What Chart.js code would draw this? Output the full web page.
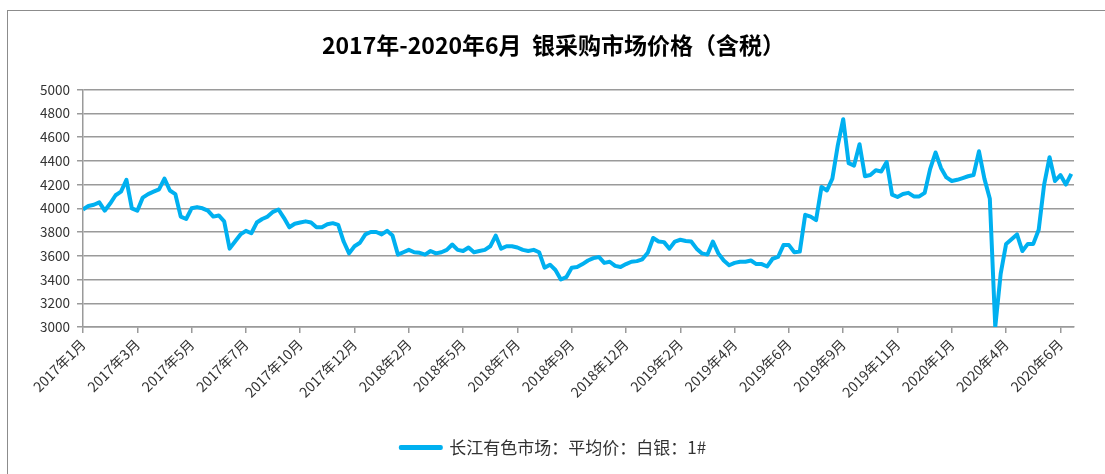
<!DOCTYPE html>
<html>
<head>
<meta charset="utf-8">
<title>银采购市场价格</title>
<script src="https://cdn.jsdelivr.net/npm/chart.js@4.4.1/dist/chart.umd.min.js"></script>
<style>
  html, body { margin: 0; padding: 0; background: #fff; overflow: hidden; }
  #wrap { position: relative; width: 1105px; height: 474px; }
  #frame { position: absolute; left: 7px; top: 10px; width: 1200px; height: 600px; border: 1px solid #8c8c8c; pointer-events: none; }
  canvas { display: block; }
</style>
</head>
<body>
<div id="wrap">
  <canvas id="silverChart" width="1105" height="474"></canvas>
  <div id="frame"></div>
</div>
<script>
// x axis labels, one every 10 samples
const tickLabels = [
  '2017年1月', '2017年3月', '2017年5月', '2017年7月', '2017年10月', '2017年12月',
  '2018年2月', '2018年5月', '2018年7月', '2018年9月', '2018年12月',
  '2019年2月', '2019年4月', '2019年6月', '2019年9月', '2019年11月',
  '2020年1月', '2020年4月', '2020年6月'
];
const stepsPerTick = 10;

const seriesName = '长江有色市场：平均价：白银：1#';

// price, evenly spaced samples
const prices = [
  3990, 4020, 4030, 4050, 3980, 4040, 4110, 4140, 4240, 4000, 3980,
  4090, 4120, 4140, 4160, 4250, 4150, 4120, 3930, 3910, 4000,
  4010, 4000, 3980, 3930, 3940, 3890, 3660, 3720, 3780, 3810,
  3790, 3880, 3910, 3930, 3970, 3990, 3920, 3840, 3870, 3880,
  3890, 3880, 3840, 3840, 3865, 3875, 3860, 3720, 3620, 3680,
  3710, 3780, 3800, 3800, 3780, 3810, 3770, 3610, 3630, 3650,
  3630, 3625, 3610, 3640, 3620, 3630, 3650, 3695, 3650, 3640,
  3670, 3630, 3640, 3650, 3680, 3770, 3660, 3680, 3680, 3670,
  3650, 3640, 3650, 3630, 3500, 3525, 3480, 3400, 3420, 3500,
  3505, 3530, 3560, 3580, 3590, 3540, 3550, 3515, 3505, 3530,
  3550, 3555, 3570, 3625, 3750, 3720, 3715, 3660, 3720, 3735,
  3725, 3720, 3660, 3620, 3610, 3720, 3620, 3560, 3520, 3540,
  3550, 3550, 3560, 3530, 3530, 3510, 3575, 3590, 3690, 3690,
  3630, 3635, 3945, 3930, 3900, 4180, 4150, 4250, 4530, 4750,
  4380, 4360, 4540, 4270, 4280, 4320, 4310, 4390, 4115, 4095,
  4120, 4130, 4100, 4100, 4130, 4330, 4470, 4340, 4260, 4230,
  4240, 4255, 4270, 4280, 4480, 4250, 4080, 3000, 3450, 3700,
  3740, 3780, 3640, 3700, 3700, 3820, 4200, 4430, 4230, 4280, 4200, 4290
];

const FONT = '"Noto Sans CJK SC", "Noto Sans", sans-serif';
const GRID = '#9a9a9a';

const ctx = document.getElementById('silverChart');
new Chart(ctx, {
  type: 'line',
  data: {
    datasets: [{
      label: seriesName,
      data: prices.map((v, i) => ({ x: i, y: v })),
      borderColor: '#00b0f0',
      backgroundColor: '#00b0f0',
      borderWidth: 4,
      borderJoinStyle: 'round',
      pointRadius: 0,
      tension: 0
    }]
  },
  options: {
    responsive: false,
    animation: false,
    devicePixelRatio: 1,
    layout: { padding: { left: 2, right: 0, top: 0, bottom: 8 } },
    scales: {
      x: {
        type: 'linear',
        min: 0,
        max: 182.5,
        afterFit: (s) => { s.height = 102; s.paddingRight = 31; },
        grid: { drawOnChartArea: false, color: GRID, lineWidth: 1.5, tickLength: 6 },
        border: { color: GRID, width: 1.5 },
        ticks: {
          stepSize: stepsPerTick,
          includeBounds: false,
          autoSkip: false,
          minRotation: 45,
          maxRotation: 45,
          padding: 3,
          color: '#333',
          font: { family: FONT, size: 14 },
          callback: (v) => tickLabels[v / stepsPerTick] ?? ''
        }
      },
      y: {
        min: 3000,
        max: 5000,
        afterFit: (s) => { s.width = 81; },
        grid: { color: GRID, lineWidth: 1.5, tickLength: 6 },
        border: { color: GRID, width: 1.5 },
        ticks: {
          stepSize: 200,
          padding: 7,
          color: '#333',
          font: { family: FONT, size: 13.5 },
          callback: (v) => String(v)
        }
      }
    },
    plugins: {
      title: {
        display: true,
        text: '2017年-2020年6月  银采购市场价格（含税）',
        color: '#000',
        font: { family: FONT, size: 23, weight: 'bold' },
        padding: { top: 31, bottom: 31 }
      },
      legend: {
        position: 'bottom',
        labels: {
          boxWidth: 40,
          boxHeight: 1,
          padding: 10,
          color: '#333',
          font: { family: FONT, size: 17 }
        }
      },
      tooltip: { enabled: false }
    }
  }
});
</script>
</body>
</html>
